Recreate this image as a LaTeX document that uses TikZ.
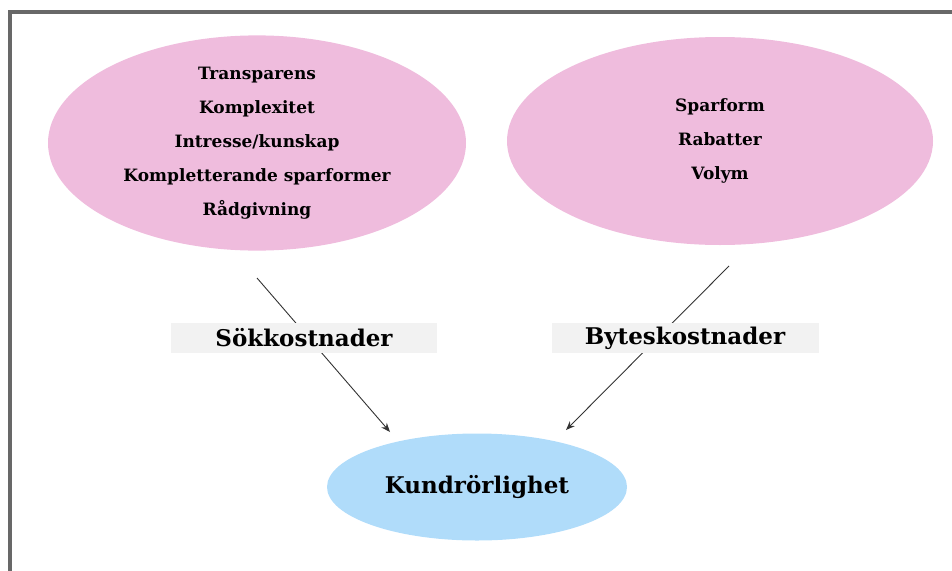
\documentclass[tikz,border=0pt]{standalone}
\usepackage{fontspec}
\setmainfont{DejaVu Serif}
\usepackage{tikz}
\usetikzlibrary{arrows.meta, positioning, shapes.geometric}
\definecolor{colFactor}{RGB}{239,188,221}
\definecolor{colMobile}{RGB}{176,220,250}
\definecolor{colCost}{RGB}{242,242,242}
\definecolor{colFrame}{RGB}{104,104,104}

\begin{document}
\begin{tikzpicture}[
  x=1pt, y=-1pt,
  arr/.style={-{Stealth[length=9pt, width=7pt]}, draw=black!80, line width=0.9pt},
  factor/.style={ellipse, fill=colFactor, minimum width=418pt, minimum height=210pt,
                 inner sep=0pt, align=center, font=\bfseries\fontsize{17}{34}\selectfont},
  cost/.style={fill=colCost, minimum width=266pt, minimum height=30pt, inner sep=0pt,
               font=\bfseries\fontsize{23}{26}\selectfont},
  goal/.style={ellipse, fill=colMobile, minimum width=300pt, minimum height=107pt,
               inner sep=0pt, font=\bfseries\fontsize{23}{26}\selectfont},
]
\useasboundingbox (0,0) rectangle (952,570);

% Frame
\draw[colFrame, line width=4pt] (9.5,572) -- (9.5,11.5) -- (954,11.5);

% Factor ellipses
\node[factor] (search) at (257,143) {Transparens\\Komplexitet\\Intresse/kunskap\\Kompletterande sparformer\\Rådgivning};
\node[factor, minimum width=426pt, minimum height=208pt] (switch) at (720,141) {Sparform\\Rabatter\\Volym};

% Customer mobility
\node[goal] (mobility) at (477,487) {Kundrörlighet};

% Arrows (free ends)
\coordinate (s1) at (257,278);
\coordinate (e1) at (390,432);
\coordinate (s2) at (729,266);
\coordinate (e2) at (566,430);
\draw[arr] (s1) -- (e1);
\draw[arr] (s2) -- (e2);

% Cost labels
\node[cost] (searchcost) at (304,338) {Sökkostnader};
\node[cost, minimum width=267pt] (switchcost) at (685,338) {Byteskostnader};

\end{tikzpicture}
\end{document}
